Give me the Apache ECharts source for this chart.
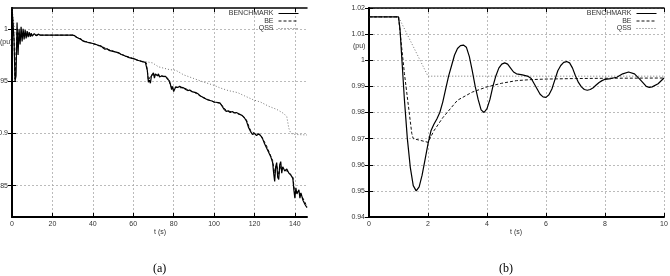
<!DOCTYPE html>
<html>
<head>
<meta charset="utf-8">
<title>benchmark vs BE vs QSS</title>
<script src="https://cdn.jsdelivr.net/npm/echarts@6/dist/echarts.min.js"></script>
<style>
  body { margin: 0; background: #fff; }
  #main { width: 670px; height: 276px; }
</style>
</head>
<body>
<div id="main"></div>
<script type="text/javascript">
// ---- panel (a) data ----
var benchTimeA = [0, 0.5, 1.0, 1.5, 2.0, 2.5, 3, 3.5, 4, 4.5, 5, 5.5, 6, 6.5, 7, 7.5, 8, 8.5, 9, 9.5, 10, 11, 12, 13, 14, 30,
  31, 32, 33, 34, 35, 36, 37, 38, 39, 40, 41, 42, 43, 44, 45, 46, 47, 48, 49, 50, 51, 52, 53, 54, 55, 56, 57, 58, 59, 60,
  61, 62, 63, 64, 65, 66, 66.5, 67, 67.5, 68, 68.5, 69, 70, 70.5, 71, 72, 72.5, 73, 74, 75, 76, 77, 78, 79, 79.5, 80,
  81, 82, 83, 84, 85, 86, 87, 88, 89, 90, 91, 92, 93, 94, 95, 96, 97, 98, 99, 100, 101, 102, 103, 104, 105, 106, 107,
  108, 109, 110, 111, 112, 113, 114, 115, 116, 117, 118, 119, 120, 121, 122, 123, 124, 125, 126, 127, 128, 129, 129.5,
  130, 130.5, 131, 131.5, 132, 132.5, 133, 133.5, 134, 135, 136, 137, 138, 139, 139.5, 140, 140.5, 141, 142, 142.5, 143,
  144, 145, 146];
var benchValA = [1.02, 1.02, 0.99, 0.95, 0.955, 1.006, 0.975, 1.0, 0.985, 1.002, 0.988, 1.0, 0.99, 0.999, 0.991, 0.998,
  0.992, 0.997, 0.9925, 0.996, 0.993, 0.9955, 0.9935, 0.995, 0.994, 0.994,
  0.9935, 0.992, 0.991, 0.9905, 0.9885, 0.9878, 0.9875, 0.9868, 0.9865, 0.986, 0.9855, 0.9848, 0.984, 0.9838, 0.982,
  0.9805, 0.981, 0.9795, 0.979, 0.9785, 0.978, 0.9775, 0.977, 0.9755, 0.975, 0.974, 0.9735, 0.9725, 0.972, 0.9715,
  0.971, 0.970, 0.9695, 0.969, 0.9685, 0.968, 0.967, 0.960, 0.949, 0.951, 0.948, 0.955, 0.958, 0.953, 0.957, 0.955,
  0.957, 0.954, 0.955, 0.9545, 0.9545, 0.952, 0.950, 0.942, 0.945, 0.940,
  0.9445, 0.944, 0.945, 0.944, 0.9435, 0.942, 0.941, 0.9415, 0.940, 0.9395, 0.939, 0.938, 0.936, 0.935, 0.934, 0.933,
  0.932, 0.9315, 0.931, 0.930, 0.9298, 0.9295, 0.929, 0.926, 0.923, 0.921, 0.9215,
  0.920, 0.921, 0.9195, 0.920, 0.919, 0.918, 0.917, 0.915, 0.912, 0.906, 0.902, 0.899, 0.900, 0.898, 0.8995, 0.898,
  0.895, 0.890, 0.886, 0.882, 0.878, 0.872, 0.862,
  0.854, 0.868, 0.872, 0.858, 0.856, 0.870, 0.873, 0.862, 0.868, 0.864, 0.866, 0.862, 0.860, 0.857, 0.846, 0.838, 0.848,
  0.842, 0.846, 0.838, 0.843, 0.836, 0.832, 0.829];

var beTimeA = [0, 0.5, 1.0, 1.5, 2.5, 4, 6, 8, 10, 14, 30, 33, 36, 40, 44, 48, 52, 56, 60, 64, 66.5, 67.5, 69, 71, 74,
  77, 79, 81, 85, 90, 95, 100, 103, 106, 110, 114, 116, 118, 120, 123, 126, 129, 130, 131, 132, 133, 135, 137, 139,
  140, 142, 144, 146];
var beValA = [1.02, 1.02, 0.99, 0.952, 1.0, 0.99, 0.995, 0.994, 0.994, 0.994, 0.994, 0.991, 0.988, 0.986, 0.9835, 0.980,
  0.9775, 0.974, 0.9715, 0.969, 0.9675, 0.951, 0.956, 0.956, 0.955, 0.953, 0.944, 0.944, 0.9435, 0.9395, 0.934, 0.930,
  0.929, 0.922, 0.920, 0.917, 0.913, 0.903, 0.900, 0.899, 0.888, 0.874, 0.862, 0.870, 0.860, 0.869, 0.865, 0.863, 0.858,
  0.842, 0.845, 0.838, 0.830];

var qssTimeA = [0, 0.5, 1.5, 3, 14, 30, 35, 40, 45, 50, 55, 60, 62.5, 65, 69.5, 72.5, 78, 81, 85, 90, 95, 100, 103, 107,
  111.7, 115, 119.6, 123, 127, 131, 134.5, 136, 137, 138, 140, 146];
var qssValA = [1.02, 1.02, 0.995, 0.996, 0.994, 0.994, 0.989, 0.986, 0.982, 0.979, 0.975, 0.9715, 0.970, 0.969, 0.9675,
  0.9637, 0.961, 0.9605, 0.956, 0.9525, 0.949, 0.946, 0.9435, 0.941, 0.939, 0.936, 0.932, 0.930, 0.926, 0.923, 0.919,
  0.916, 0.905, 0.900, 0.899, 0.8985];

var xTicksA = [0, 20, 40, 60, 80, 100, 120, 140];
var yTicksA = [0.85, 0.9, 0.95, 1];

// ---- panel (b) data ----
var benchTimeB = [0, 1.0, 1.05, 1.1, 1.2, 1.3, 1.4, 1.5, 1.6, 1.7, 1.8, 1.9, 2.0, 2.1, 2.2, 2.3, 2.4, 2.5, 2.6, 2.7, 2.8,
  2.9, 3.0, 3.1, 3.2, 3.3, 3.4, 3.5, 3.6, 3.7, 3.8, 3.9, 4.0, 4.1, 4.2, 4.3, 4.4, 4.5, 4.6, 4.7, 4.8, 4.9, 5.0, 5.2, 5.4,
  5.5, 5.6, 5.7, 5.8, 5.9, 6.0, 6.1, 6.2, 6.3, 6.4, 6.5, 6.6, 6.7, 6.8, 6.9, 7.0, 7.1, 7.2, 7.3, 7.4, 7.5, 7.6, 7.7, 7.8,
  7.9, 8.0, 8.2, 8.4, 8.6, 8.8, 9.0, 9.2, 9.4, 9.5, 9.6, 9.8, 10];
var benchValB = [1.0166, 1.0166, 1.012, 1.003, 0.985, 0.970, 0.959, 0.952, 0.950, 0.9515, 0.956, 0.962, 0.968, 0.973,
  0.9755, 0.9775, 0.980, 0.984, 0.989, 0.994, 0.998, 1.002, 1.0045, 1.0056, 1.0058, 1.005, 1.0015, 0.996, 0.990, 0.985,
  0.981, 0.980, 0.9815, 0.985, 0.990, 0.994, 0.997, 0.9985, 0.999, 0.9985, 0.997, 0.9955, 0.9948, 0.9944, 0.9938,
  0.993, 0.991, 0.989, 0.987, 0.986, 0.9858, 0.9868, 0.989, 0.9925, 0.996, 0.998, 0.9992, 0.9995, 0.999, 0.997, 0.994,
  0.9915, 0.9898, 0.9888, 0.9885, 0.9888, 0.9895, 0.9905, 0.9915, 0.9922, 0.9927, 0.993, 0.9935, 0.9948, 0.9955,
  0.9948, 0.9925, 0.990, 0.9896, 0.9898, 0.991, 0.9932];

var beTimeB = [0, 1.0, 1.2, 1.45, 1.5, 2.0, 2.2, 2.5, 3.0, 3.5, 4.0, 4.5, 5.0, 5.5, 6, 7, 8, 10];
var beValB = [1.0166, 1.0166, 0.995, 0.972, 0.970, 0.9686, 0.973, 0.978, 0.9847, 0.9878, 0.9898, 0.9912, 0.9922,
  0.9926, 0.9928, 0.993, 0.9931, 0.9932];

var qssTimeB = [0, 1.0, 2.0, 10];
var qssValB = [1.0166, 1.0166, 0.9939, 0.9939];

var xTicksB = [0, 2, 4, 6, 8, 10];
var yTicksB = [0.94, 0.95, 0.96, 0.97, 0.98, 0.99, 1, 1.01, 1.02];

function pairs(t, v) {
  var out = [];
  for (var i = 0; i < t.length; i++) out.push([t[i], v[i]]);
  return out;
}

var myChart = echarts.init(document.getElementById('main'));
var txt = '#333';
var labelFont = { fontSize: 7, color: txt, fontFamily: 'Liberation Sans' };

function xAxisDef(grid, min, max, ticks, pos) {
  var bottom = pos === 'bottom';
  return {
    type: 'value', gridIndex: grid, min: min, max: max, position: pos,
    axisLine: { show: true, lineStyle: { color: '#000', width: bottom ? 2 : 1.5 } },
    axisTick: { show: true, inside: true, length: 4, customValues: ticks, lineStyle: { color: '#000', width: 1 } },
    axisLabel: Object.assign({ show: bottom, margin: 4, customValues: ticks }, labelFont),
    splitLine: { show: bottom, lineStyle: { color: '#aaa', type: [2, 2], width: 0.8 } }
  };
}
function yAxisDef(grid, min, max, ticks, pos) {
  var left = pos === 'left';
  return {
    type: 'value', gridIndex: grid, min: min, max: max, position: pos,
    axisLine: { show: true, lineStyle: { color: '#000', width: left ? 2 : 1.5 } },
    axisTick: { show: true, inside: true, length: 4, customValues: ticks, lineStyle: { color: '#000', width: 1 } },
    axisLabel: Object.assign({ show: left, margin: 4, customValues: ticks }, labelFont),
    splitLine: { show: left, lineStyle: { color: '#aaa', type: [2, 2], width: 0.8 } }
  };
}

function lineSeries(name, xi, yi, data, style) {
  return {
    name: name, type: 'line', xAxisIndex: xi, yAxisIndex: yi, data: data,
    showSymbol: false, symbol: 'none', animation: false, clip: true,
    lineStyle: style, itemStyle: { color: style.color }
  };
}

var benchStyle = { color: '#000', width: 1.2, type: 'solid' };
var beStyle = { color: '#111', width: 1, type: [3, 2] };
var qssStyle = { color: '#666', width: 0.9, type: [1, 2] };

function legendDef(right) {
  return {
    orient: 'vertical', right: right, top: 10, align: 'right',
    itemWidth: 20, itemHeight: 6, itemGap: 0.5, padding: 0,
    itemStyle: { opacity: 0 },
    lineStyle: { width: 1 },
    textStyle: { fontSize: 7, color: txt, fontFamily: 'Liberation Sans', padding: [0, 0, 0, 0] },
    data: ['BENCHMARK', 'BE', 'QSS']
  };
}

var option = {
  backgroundColor: '#fff',
  animation: false,
  grid: [
    { left: 12, top: 8, right: 363, bottom: 59, outerBoundsMode: 'none', containLabel: false },
    { left: 369, top: 8, right: 6, bottom: 59, outerBoundsMode: 'none', containLabel: false }
  ],
  xAxis: [
    xAxisDef(0, 0, 146, xTicksA, 'bottom'),
    xAxisDef(0, 0, 146, xTicksA, 'top'),
    xAxisDef(1, 0, 10, xTicksB, 'bottom'),
    xAxisDef(1, 0, 10, xTicksB, 'top')
  ],
  yAxis: [
    yAxisDef(0, 0.82, 1.02, yTicksA, 'left'),
    yAxisDef(0, 0.82, 1.02, yTicksA, 'right'),
    yAxisDef(1, 0.94, 1.02, yTicksB, 'left'),
    yAxisDef(1, 0.94, 1.02, yTicksB, 'right')
  ],
  legend: [legendDef(371), legendDef(13)],
  series: [
    lineSeries('QSS', 0, 0, pairs(qssTimeA, qssValA), qssStyle),
    lineSeries('BE', 0, 0, pairs(beTimeA, beValA), beStyle),
    lineSeries('BENCHMARK', 0, 0, pairs(benchTimeA, benchValA), benchStyle),
    lineSeries('QSS', 2, 2, pairs(qssTimeB, qssValB), qssStyle),
    lineSeries('BE', 2, 2, pairs(beTimeB, beValB), beStyle),
    lineSeries('BENCHMARK', 2, 2, pairs(benchTimeB, benchValB), benchStyle)
  ],
  graphic: [
    { type: 'text', left: 0, top: 39, style: { text: '(pu)', fontSize: 7, fill: txt, fontFamily: 'Liberation Sans' } },
    { type: 'text', left: 353, top: 43, style: { text: '(pu)', fontSize: 7, fill: txt, fontFamily: 'Liberation Sans' } },
    { type: 'text', left: 154, top: 229, style: { text: 't (s)', fontSize: 7, fill: txt, fontFamily: 'Liberation Sans' } },
    { type: 'text', left: 510, top: 229, style: { text: 't (s)', fontSize: 7, fill: txt, fontFamily: 'Liberation Sans' } },
    { type: 'text', left: 153, top: 263, style: { text: '(a)', fontSize: 12, fill: '#000', fontFamily: 'Liberation Serif' } },
    { type: 'text', left: 499, top: 263, style: { text: '(b)', fontSize: 12, fill: '#000', fontFamily: 'Liberation Serif' } }
  ]
};

myChart.setOption(option);
</script>
</body>
</html>
